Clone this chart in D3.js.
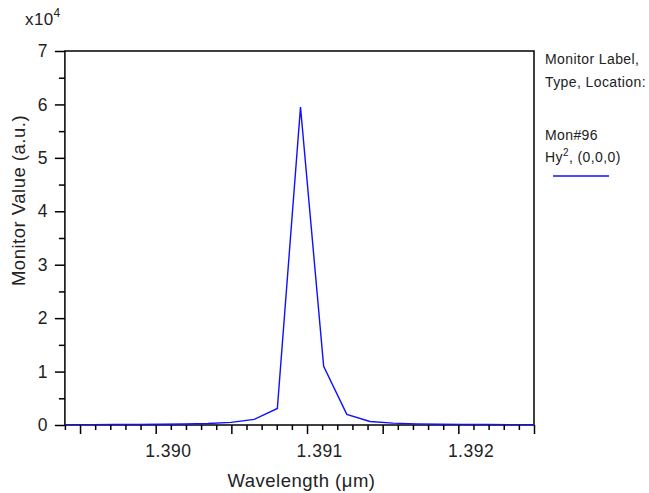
<!DOCTYPE html>
<html><head><meta charset="utf-8">
<script src="https://cdn.jsdelivr.net/npm/d3@7"></script>
<style>body{margin:0;background:#fff;} svg{display:block;font-family:"Liberation Sans",Arial,sans-serif;}</style>
</head><body>
<svg id="c" width="649" height="493"></svg>
<script>
const wavelength = [1.389274,1.389427,1.389580,1.389733,1.389886,1.390039,1.390192,1.390345,1.390498,1.390651,1.390804,1.390957,1.391110,1.391263,1.391416,1.391569,1.391722,1.391875,1.392028,1.392181,1.392334,1.392487,1.392640];
const monitorValue = [40,50,60,80,100,130,180,270,500,1050,3100,59500,11000,2000,650,350,220,150,110,80,60,50,40];
const xTickLabels = [1.390,1.391,1.392];
const yMajorTicks = [0,1,2,3,4,5,6,7];

const svg = d3.select("#c");
const L=64.9, R=534, T=51, B=425;
const x = d3.scaleLinear().domain([1.3894,1.3925]).range([L,R]);
const y = d3.scaleLinear().domain([0,70000]).range([B,T]);

svg.append("defs").append("clipPath").attr("id","clip").append("rect")
  .attr("x",L).attr("y",T-5).attr("width",R-L).attr("height",B-T+5);

const allX = d3.range(13894,13926).map(d=>d/10000);
const xMinor = allX.filter((d,i)=>i%5!==1);
const xMajor = allX.filter((d,i)=>i%5===1);
const gxm = svg.append("g").attr("transform",`translate(0,${B})`)
  .call(d3.axisBottom(x).tickValues(xMinor).tickSize(5).tickFormat(""));
const gxM = svg.append("g").attr("transform",`translate(0,${B})`)
  .call(d3.axisBottom(x).tickValues(xMajor).tickSize(9).tickFormat(""));
const yMinor = d3.range(0,15).filter(d=>d%2===1).map(d=>d*5000);
const gym = svg.append("g").attr("transform",`translate(${L},0)`)
  .call(d3.axisLeft(y).tickValues(yMinor).tickSize(6).tickFormat(""));
const gy = svg.append("g").attr("transform",`translate(${L},0)`)
  .call(d3.axisLeft(y).tickValues(yMajorTicks.map(d=>d*1e4)).tickSize(10).tickPadding(7).tickFormat(d=>d/1e4));
[gxm,gxM,gym,gy].forEach(g=>{
  g.select(".domain").remove();
  g.selectAll("line").attr("stroke","#000").attr("stroke-width",1.5);
  g.selectAll("text").attr("fill","#222").attr("font-size",17.5).attr("letter-spacing","0.5px")
    .attr("font-family","Liberation Sans, Arial, sans-serif");
});
// x tick labels (offset right of their tick, as in the reference)
svg.append("g").selectAll("text").data(xTickLabels).join("text")
  .attr("x",d=>x(d)+12.7).attr("y",457).attr("text-anchor","middle")
  .attr("font-size",17.5).attr("letter-spacing","0.5px").attr("fill","#222")
  .text(d3.format(".3f"));

// frame
svg.append("rect").attr("x",L).attr("y",T).attr("width",R-L).attr("height",B-T)
  .attr("fill","none").attr("stroke","#000").attr("stroke-width",1.5);

// data line
svg.append("path").datum(wavelength.map((w,i)=>[w,monitorValue[i]]))
  .attr("clip-path","url(#clip)")
  .attr("fill","none").attr("stroke","#1010ff").attr("stroke-width",1.4)
  .attr("d",d3.line().x(d=>x(d[0])).y(d=>y(d[1])));

// multiplier
const mt = svg.append("text").attr("x",25).attr("y",25).attr("font-size",17).attr("letter-spacing","0.4px").attr("fill","#222");
mt.append("tspan").text("x10");
mt.append("tspan").attr("dy",-8).attr("font-size",12).text("4");

// axis titles
svg.append("text").attr("x",301.5).attr("y",487).attr("text-anchor","middle")
  .attr("font-size",18.5).attr("letter-spacing","0.5px").attr("fill","#222").text("Wavelength (\u03bcm)");
svg.append("text").attr("transform",`translate(25,200.5) rotate(-90)`).attr("text-anchor","middle")
  .attr("font-size",18.5).attr("letter-spacing","0.5px").attr("fill","#222").text("Monitor Value (a.u.)");

// legend
const lg = svg.append("g").attr("font-size",14).attr("letter-spacing","0.4px").attr("fill","#222");
lg.append("text").attr("x",545).attr("y",63.5).text("Monitor Label,");
lg.append("text").attr("x",545).attr("y",87).text("Type, Location:");
lg.append("text").attr("x",545).attr("y",140).text("Mon#96");
const t = lg.append("text").attr("x",545).attr("y",162);
t.append("tspan").text("Hy");
t.append("tspan").attr("dy",-6).attr("font-size",10).text("2");
t.append("tspan").attr("dy",6).text(", (0,0,0)");
svg.append("line").attr("x1",553).attr("x2",609).attr("y1",176).attr("y2",176)
  .attr("stroke","#1010ff").attr("stroke-width",1.4);
</script>
</body></html>
